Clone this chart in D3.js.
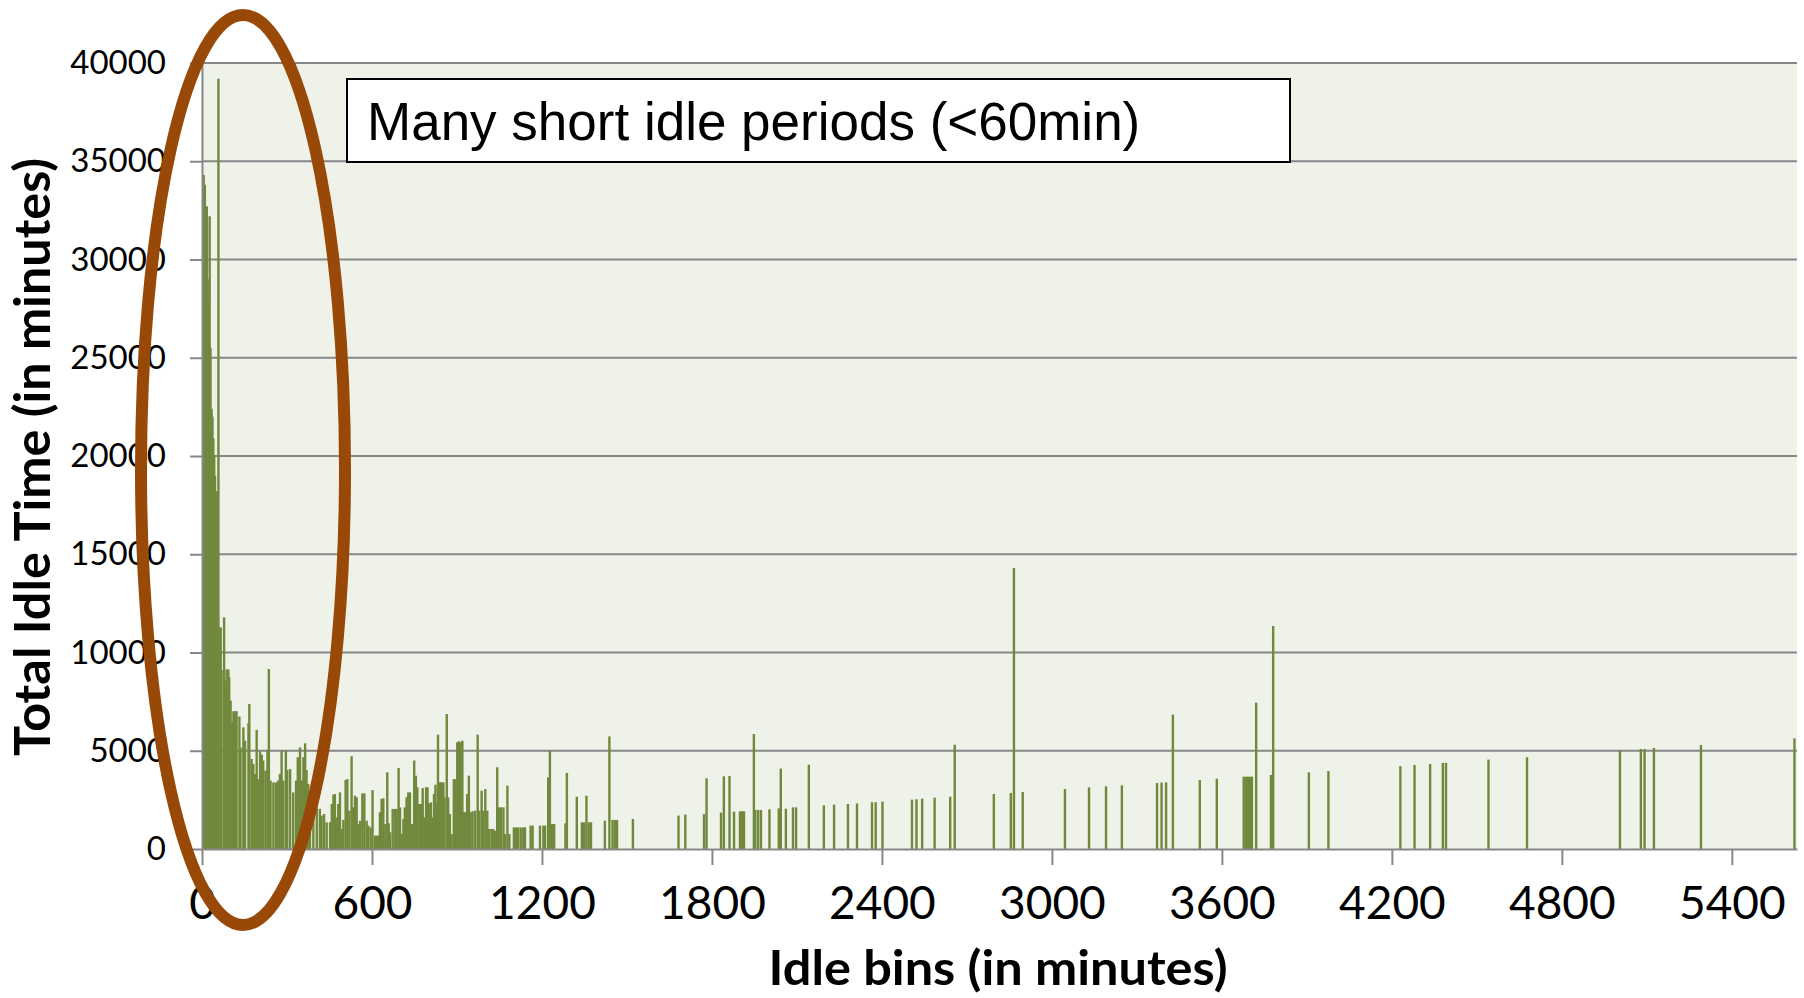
<!DOCTYPE html>
<html>
<head>
<meta charset="utf-8">
<script src="https://cdn.jsdelivr.net/npm/d3@7"></script>
<style>
  body { margin: 0; background: #fff; }
</style>
</head>
<body>
<div id="chart"></div>
<script>
// idle bin (minutes) and total idle time for that bin (minutes)
const idleBins = [
  6, 10, 14, 17, 20, 23, 27, 30, 34, 37, 40, 43, 46, 49, 53, 58,
  61, 66, 69, 78, 81, 87, 93, 96, 101, 107, 111, 116, 122, 132, 136, 146, 152, 164, 167,
  175, 181, 187, 193, 199, 205, 211, 216, 224, 231, 236, 242, 252, 261, 269, 275, 281,
  287, 296, 301, 311, 322, 332, 338, 346, 352, 358, 364, 369, 375, 381, 393, 405, 416,
  422, 431, 440, 452, 458, 464, 469, 475, 481, 487, 493, 499, 507, 513, 520, 528, 534,
  540, 546, 552, 558, 566, 573, 581, 587, 595, 602, 611, 616, 622, 628, 634, 640, 647,
  654, 659, 664, 673, 681, 687, 694, 699, 705, 711, 716, 722, 728, 734, 742, 749, 755,
  760, 767, 773, 779, 785, 791, 796, 802, 808, 814, 819, 824, 828, 833, 838, 842, 847,
  852, 856, 864, 869, 875, 881, 889, 894, 901, 907, 913, 919, 925, 929, 936, 942, 948,
  955, 964, 973, 979, 987, 993, 1000, 1007, 1014, 1022, 1028, 1034, 1042, 1048, 1055,
  1064, 1069, 1078, 1085, 1101, 1108, 1116, 1125, 1134, 1140, 1160, 1167, 1193, 1205,
  1211, 1222, 1228,
  1236, 1243, 1283, 1288, 1323, 1341, 1349, 1357, 1365, 1373, 1422, 1438, 1449, 1457,
  1465, 1521, 1682, 1706, 1772, 1781, 1832, 1842, 1862, 1878, 1899, 1906, 1913, 1948,
  1953, 1963, 1973, 2003, 2036, 2043, 2061, 2086, 2097, 2142, 2195, 2231, 2280, 2312,
  2365, 2378, 2402, 2506, 2522, 2542, 2586, 2641, 2657, 2795, 2855, 2866, 2897, 3046,
  3131, 3191, 3247, 3371, 3387, 3403, 3427, 3522, 3582, 3677, 3685, 3692, 3699, 3706,
  3721, 3773, 3781, 3907, 3976, 4230, 4280, 4335, 4380, 4391, 4541, 4677, 5005, 5079,
  5092, 5125, 5291, 5621
];
const idleTotals = [
  34300, 33800, 32700, 32700, 29000, 27800, 32200, 25500, 22400, 22000, 20900, 20000, 19000, 18200, 18200, 39200,
  11280, 11280, 9110, 11790, 8570, 9140, 9140, 8740, 7550, 6450, 7010, 7010, 7010, 6740, 5170, 6190, 5510, 6400, 7380,
  4580, 4330, 3820, 6060, 3560, 4970, 4800, 4500, 3990, 5040, 9160, 3480, 3390, 3390, 3480, 3820, 5000,
  3480, 5000, 4020, 4070, 2880, 3480, 4670, 5170, 3480, 4670, 5380, 4020, 3310, 2120, 1780, 2120, 2040,
  1700, 1780, 1360, 1360, 2290, 2770, 2800, 1610, 2290, 2880, 1020, 1480, 3510, 3560, 1950, 4720, 2120,
  2710, 2630, 1270, 1440, 2830, 2830, 1440, 1190, 1100, 3000, 680, 680, 680, 1870, 2550, 2580, 1270,
  3900, 1310, 850, 2040, 2040, 2040, 4120, 2120, 760, 1530, 2120, 2630, 2880, 2880, 1270, 4500, 3730,
  3140, 2290, 2290, 3100, 1610, 3140, 3140, 2320, 2370, 1610, 2800, 3270, 2370, 5820, 3390, 3390, 3390,
  3390, 2630, 6870, 2630, 1780, 760, 3560, 3560, 5430, 5480, 5430, 5510, 1870, 1870, 2800, 3730, 1870,
  1920, 1950, 5820, 1950, 2970, 1950, 3050, 1950, 1020, 1020, 1020, 930, 4160, 2120, 2120,
  2120, 760, 3220, 760, 1100, 1100, 1100, 1100, 1100, 1100, 1190, 1190, 1190, 1190,
  1190, 3650, 5000,
  1270, 1270, 1310, 3870, 2660, 1360, 1360, 2710, 1360, 1360, 1440, 5730, 1480, 1480,
  1480, 1530, 1700, 1750, 1780, 3600, 1850, 3700, 3720, 1900, 1920, 1920, 1920, 5850,
  1990, 1990, 1990, 2020, 2070, 4090, 2050, 2120, 2120, 4290, 2220, 2260, 2290, 2320,
  2380, 2380, 2410, 2510, 2530, 2560, 2610, 2660, 5310, 2800, 2850, 14300, 2900, 3050,
  3140, 3190, 3240, 3360, 3380, 3390, 6840, 3510, 3580, 3680, 3680, 3680, 3680, 3680,
  7450, 3770, 11350, 3900, 3970, 4220, 4280, 4330, 4380, 4380, 4550, 4670, 5000, 5090,
  5090, 5140, 5290, 5630
];
const xTicks = [0, 600, 1200, 1800, 2400, 3000, 3600, 4200, 4800, 5400];
const yTicks = [0, 5000, 10000, 15000, 20000, 25000, 30000, 35000, 40000];
const xTitle = "Idle bins (in minutes)";
const yTitle = "Total Idle Time (in minutes)";
const noteText = "Many short idle periods (<60min)";

const data = idleBins.map((b, i) => ({ x: b, y: idleTotals[i] }));

const svg = d3
  .select("#chart")
  .append("svg")
  .attr("width", 1804)
  .attr("height", 998);

const margin = { top: 63, bottom: 149, left: 202, right: 7 };
const width = +svg.attr("width") - margin.left - margin.right;
const height = +svg.attr("height") - margin.top - margin.bottom;
const chart = svg.append("g").attr("transform", `translate(${margin.left},${margin.top})`);

const xScale = d3.scaleLinear().domain([0, 5630]).range([0, width]);
const yScale = d3.scaleLinear().domain([0, 40000]).range([height, 0]);

const axisGrey = "#878787";

// plot area
chart.append("rect")
  .attr("width", width)
  .attr("height", height)
  .attr("fill", "#eff2e8");

// gridlines
chart.append("g")
  .selectAll("line")
  .data(yTicks.filter(d => d > 0))
  .join("line")
  .attr("x1", 0)
  .attr("x2", width)
  .attr("y1", d => yScale(d))
  .attr("y2", d => yScale(d))
  .attr("stroke", axisGrey)
  .attr("stroke-width", 2);

// bars
chart.append("g")
  .selectAll("rect")
  .data(data)
  .join("rect")
  .attr("x", d => xScale(d.x) - 1.2)
  .attr("width", 2.4)
  .attr("y", d => yScale(d.y))
  .attr("height", d => height - yScale(d.y))
  .attr("fill", "#71893d");

// axes
const yAxis = chart.append("g")
  .call(d3.axisLeft(yScale).tickValues(yTicks).tickSize(12).tickSizeOuter(0).tickPadding(24).tickFormat(d3.format("d")));
const xAxis = chart.append("g")
  .attr("transform", `translate(0,${height})`)
  .call(d3.axisBottom(xScale).tickValues(xTicks).tickSize(16).tickSizeOuter(0).tickFormat(d3.format("d")));

[yAxis, xAxis].forEach(g => {
  g.select(".domain").attr("stroke", axisGrey).attr("stroke-width", 2);
  g.selectAll(".tick line").attr("stroke", axisGrey).attr("stroke-width", 2);
  g.selectAll("text").attr("fill", "#000").attr("font-family", "Lato, sans-serif");
});
yAxis.selectAll("text").attr("font-size", 33);
xAxis.selectAll("text").attr("font-size", 46).attr("y", 70).attr("dy", null);

// axis titles
svg.append("text")
  .attr("transform", "translate(50,457) rotate(-90)")
  .attr("text-anchor", "middle")
  .attr("font-family", "Lato, sans-serif")
  .attr("font-weight", "bold")
  .attr("font-size", 50)
  .attr("textLength", 598)
  .attr("lengthAdjust", "spacingAndGlyphs")
  .text(yTitle);

svg.append("text")
  .attr("x", 998)
  .attr("y", 985)
  .attr("text-anchor", "middle")
  .attr("font-family", "Lato, sans-serif")
  .attr("font-weight", "bold")
  .attr("font-size", 48)
  .attr("textLength", 459)
  .attr("lengthAdjust", "spacingAndGlyphs")
  .text(xTitle);

// annotation box
svg.append("rect")
  .attr("x", 347)
  .attr("y", 79)
  .attr("width", 943)
  .attr("height", 83)
  .attr("fill", "#fff")
  .attr("stroke", "#000")
  .attr("stroke-width", 2);
svg.append("text")
  .attr("x", 367)
  .attr("y", 140)
  .attr("font-family", "'Liberation Sans', Arial, sans-serif")
  .attr("font-size", 53)
  .text(noteText);

// highlight ellipse
svg.append("ellipse")
  .attr("cx", 243)
  .attr("cy", 470)
  .attr("rx", 102)
  .attr("ry", 455)
  .attr("fill", "none")
  .attr("stroke", "#984807")
  .attr("stroke-width", 12);
</script>
</body>
</html>
